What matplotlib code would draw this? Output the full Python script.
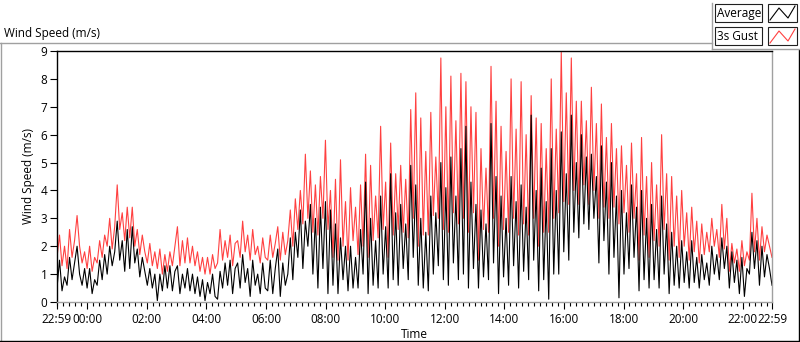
import matplotlib
matplotlib.use("Agg")
import matplotlib.pyplot as plt
import matplotlib.dates as mdates
from matplotlib.lines import Line2D
from matplotlib.patches import Rectangle
import pandas as pd

# 3s gust (m/s), 22:59 -> 22:59 next day
gust = [
    1.6, 2.4, 1.3, 2.0, 1.2, 2.6, 1.6, 2.2, 3.1, 2.0, 1.4, 1.8,
    1.2, 2.0, 1.1, 1.6, 1.4, 2.2, 1.6, 2.4, 2.0, 3.0, 1.9, 2.7,
    4.2, 2.6, 3.2, 2.2, 3.4, 2.3, 3.4, 2.0, 2.6, 1.7, 2.4, 1.8,
    1.4, 2.1, 1.3, 1.8, 1.2, 1.9, 1.0, 1.7, 1.1, 1.8, 1.3, 2.0,
    2.7, 1.3, 2.2, 1.4, 2.3, 1.4, 2.0, 1.3, 1.8, 1.1, 1.6, 1.0,
    1.6, 1.0, 1.7, 1.2, 1.4, 2.6, 1.5, 2.2, 1.6, 2.4, 1.3, 2.1,
    2.2, 1.6, 2.9, 1.8, 2.4, 1.5, 2.6, 1.7, 2.0, 1.4, 2.3, 1.6,
    1.5, 2.4, 1.6, 2.1, 2.7, 1.5, 2.5, 1.7, 2.2, 3.3, 2.0, 3.7,
    2.6, 4.0, 2.8, 5.3, 3.0, 4.7, 2.5, 4.2, 2.4, 4.5, 3.0, 5.8,
    2.6, 4.0, 1.6, 4.4, 1.5, 5.1, 2.0, 3.6, 1.5, 4.1, 2.2, 3.4,
    1.7, 4.2, 2.0, 5.3, 1.6, 4.9, 2.2, 3.8, 2.3, 6.3, 2.6, 4.3,
    1.6, 5.7, 2.4, 4.6, 2.6, 4.9, 2.5, 4.4, 2.3, 6.9, 3.0, 7.5,
    2.0, 6.6, 2.4, 5.4, 2.4, 6.8, 3.1, 5.2, 3.0, 8.75, 2.6, 7.0,
    2.5, 8.1, 3.2, 6.5, 2.8, 8.2, 3.0, 7.9, 2.5, 7.0, 3.2, 6.8,
    1.5, 5.5, 2.6, 4.8, 2.5, 8.45, 3.0, 7.2, 2.0, 6.3, 2.6, 5.4,
    2.5, 8.0, 3.0, 6.2, 2.4, 7.9, 2.8, 6.0, 2.4, 7.4, 3.0, 6.6,
    2.0, 6.4, 2.5, 5.5, 2.5, 8.0, 3.0, 6.2, 3.2, 8.95, 3.6, 7.5,
    3.5, 8.75, 4.0, 7.2, 3.5, 7.2, 4.2, 6.5, 3.5, 7.7, 4.0, 6.4,
    3.0, 7.1, 3.4, 5.9, 3.0, 6.4, 3.4, 5.5, 2.8, 5.6, 3.2, 4.9,
    2.5, 5.7, 3.0, 4.6, 1.5, 5.9, 2.4, 4.5, 1.6, 5.0, 2.2, 4.2,
    2.0, 6.0, 2.6, 4.6, 1.5, 4.5, 2.0, 3.8, 1.6, 4.0, 2.0, 3.2,
    1.5, 3.4, 1.8, 2.9, 1.4, 2.8, 1.7, 2.5, 1.8, 3.0, 2.0, 2.6,
    1.6, 3.5, 1.9, 3.0, 1.1, 2.1, 1.4, 1.9, 1.1, 2.2, 1.3, 1.8,
    1.5, 3.9, 1.8, 3.0, 1.5, 2.7, 1.8, 2.4, 2.0, 1.6,
]

# average wind speed (m/s)
average = [
    0.5, 1.5, 0.4, 0.9, 0.6, 1.6, 0.8, 1.4, 2.0, 1.0, 0.6, 1.2,
    0.5, 1.2, 0.3, 0.8, 0.6, 1.5, 0.8, 1.7, 1.0, 2.0, 1.3, 1.8,
    2.9, 1.5, 2.2, 1.1, 2.6, 1.2, 2.7, 1.4, 1.9, 0.9, 1.6, 1.1,
    0.6, 1.2, 0.5, 1.0, 0.05, 1.0, 0.4, 1.3, 0.5, 1.3, 0.4, 1.1,
    1.3, 0.3, 1.0, 0.5, 1.2, 0.4, 1.0, 0.3, 0.9, 0.2, 0.8, 0.05,
    0.7, 0.3, 1.0, 0.2, 0.1, 1.1, 0.5, 1.4, 0.6, 1.5, 0.3, 1.2,
    1.4, 0.5, 1.7, 0.7, 1.2, 0.2, 1.5, 0.6, 1.0, 0.3, 1.4, 0.5,
    0.4, 1.5, 0.3, 1.2, 1.9, 0.2, 1.4, 0.6, 1.0, 2.3, 0.8, 2.5,
    1.6, 3.3, 1.2, 2.9, 2.0, 3.5, 1.0, 3.0, 0.5, 3.4, 1.2, 3.6,
    0.3, 3.3, 0.6, 2.8, 0.3, 2.3, 0.8, 2.0, 0.4, 2.0, 0.5, 1.6,
    0.5, 2.6, 1.0, 4.3, 0.3, 3.0, 0.6, 2.2, 0.5, 3.8, 1.0, 2.7,
    0.5, 4.6, 0.8, 3.2, 0.6, 3.5, 1.2, 2.8, 0.8, 4.9, 1.6, 4.2,
    0.6, 3.0, 0.5, 2.5, 0.4, 3.8, 1.0, 3.2, 1.3, 5.0, 0.8, 4.1,
    0.6, 5.2, 1.4, 3.8, 0.8, 5.5, 1.0, 6.3, 0.5, 4.3, 1.2, 3.5,
    0.5, 3.3, 0.9, 2.8, 0.8, 6.4, 1.4, 4.5, 0.3, 3.8, 0.9, 3.0,
    0.6, 4.5, 1.3, 3.6, 0.5, 4.2, 1.1, 3.4, 0.8, 6.7, 1.5, 4.0,
    0.4, 4.8, 0.8, 3.6, 0.1, 5.5, 1.0, 4.0, 1.0, 6.1, 1.8, 4.6,
    1.5, 6.7, 2.5, 5.0, 2.3, 6.0, 2.8, 5.2, 2.6, 5.3, 3.0, 4.5,
    1.4, 5.6, 2.2, 4.3, 1.0, 5.0, 1.6, 3.8, 0.15, 4.0, 1.0, 3.2,
    1.2, 4.2, 1.6, 3.4, 0.4, 4.0, 0.8, 3.0, 0.5, 3.5, 0.8, 2.6,
    0.5, 3.8, 1.0, 2.8, 0.3, 2.5, 0.6, 2.0, 0.5, 2.2, 0.7, 1.8,
    0.5, 2.2, 0.7, 1.6, 0.5, 1.7, 0.8, 1.4, 0.6, 2.0, 1.0, 1.7,
    0.8, 2.3, 1.2, 2.0, 0.5, 1.8, 0.7, 1.5, 0.3, 1.6, 0.2, 1.2,
    1.0, 2.5, 1.2, 2.2, 0.6, 2.0, 0.9, 1.7, 1.2, 0.6,
]

start = pd.Timestamp("2020-01-01 22:59")
end = pd.Timestamp("2020-01-02 22:59")
chart_title = "Wind Speed (m/s)"
y_label = "Wind Speed (m/s)"
x_label = "Time"
legend_names = ["Average", "3s Gust"]
legend_colors = ["black", "#ff4040"]

plt.rcParams["font.family"] = ["Open Sans", "DejaVu Sans"]
plt.rcParams["font.size"] = 8.5

W, H = 800, 342


def fx(x):
    return x / W


def fy(y):
    return 1 - y / H


times = pd.date_range(start, end, periods=len(gust))

fig = plt.figure(figsize=(8, 3.42), dpi=100)
ax = fig.add_axes([fx(57), fy(302), (772 - 57) / W, (302 - 51) / H])

ax.plot(times, gust, color=legend_colors[1], lw=0.8)
ax.plot(times, average, color=legend_colors[0], lw=0.8)

ax.set_xlim(start, end)
ax.set_ylim(0, 9)
ax.set_yticks(range(0, 10))

major = [start] + list(pd.date_range("2020-01-02 00:00", "2020-01-02 22:00", freq="2h")) + [end]
ax.set_xticks(major)
ax.set_xticklabels([t.strftime("%H:%M") for t in major])
ax.xaxis.set_minor_locator(mdates.MinuteLocator(byminute=[0, 12, 24, 36, 48]))

ax.tick_params(axis="both", which="major", length=5, width=0.8, color="black", pad=2)
ax.tick_params(axis="x", which="minor", length=3, width=0.8, color="black")
ax.tick_params(axis="x", pad=3)

ax.spines["top"].set_color("black")
ax.spines["left"].set_color("black")
ax.spines["right"].set_color("#a0a0a0")
ax.spines["bottom"].set_color("#a0a0a0")
for s in ax.spines.values():
    s.set_linewidth(1.0)

ax.set_xlabel(x_label, labelpad=1)
ax.set_ylabel(y_label, labelpad=4)

# outer frame and title, LabVIEW style
fig.text(fx(4), fy(33), chart_title, ha="left", va="center")
frame = [
    ((0, 712), (43, 43), "#a0a0a0"),
    ((1, 1), (43, 341), "#a0a0a0"),
    ((0, 799), (341, 341), "black"),
    ((799, 799), (50, 341), "black"),
    ((712, 712), (3, 49), "#a0a0a0"),
    ((712, 799), (49, 49), "#a0a0a0"),
]
for xs, ys, c in frame:
    fig.add_artist(Line2D([fx(v) for v in xs], [fy(v) for v in ys], color=c, lw=1.0))

# legend boxes
for i, (name, col) in enumerate(zip(legend_names, legend_colors)):
    top = 4 + i * 23
    fig.add_artist(Rectangle((fx(715), fy(top + 18)), 47 / W, 18 / H,
                             facecolor="white", edgecolor="#202020", lw=0.8))
    fig.text(fx(717), fy(top + 9), name, ha="left", va="center")
    fig.add_artist(Rectangle((fx(768), fy(top + 18)), 29 / W, 18 / H,
                             facecolor="white", edgecolor="#202020", lw=0.8))
    zx = [770, 779, 788, 795]
    zy = [top + 16, top + 4, top + 14, top + 2]
    fig.add_artist(Line2D([fx(v) for v in zx], [fy(v) for v in zy], color=col, lw=0.8))

fig.savefig("out.png", dpi=100)
